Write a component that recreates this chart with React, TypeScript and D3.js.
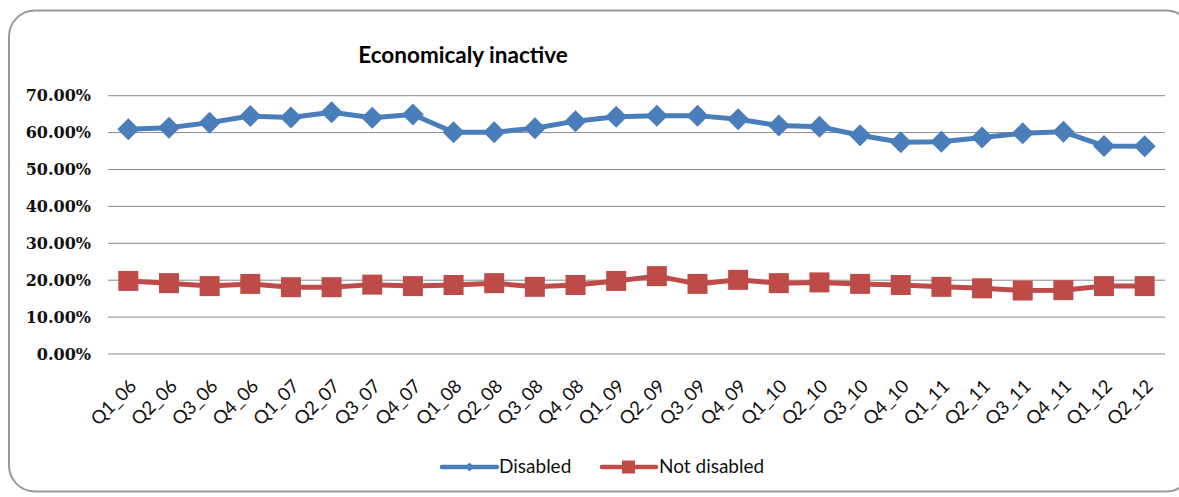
import React from "react";
import * as d3 from "d3";

const categories = ["Q1_06","Q2_06","Q3_06","Q4_06","Q1_07","Q2_07","Q3_07","Q4_07","Q1_08","Q2_08","Q3_08","Q4_08","Q1_09","Q2_09","Q3_09","Q4_09","Q1_10","Q2_10","Q3_10","Q4_10","Q1_11","Q2_11","Q3_11","Q4_11","Q1_12","Q2_12"];
const disabled = [60.9,61.3,62.7,64.5,64.1,65.5,64.0,64.9,60.1,60.1,61.2,63.1,64.3,64.6,64.6,63.6,61.9,61.6,59.3,57.4,57.5,58.7,59.8,60.2,56.4,56.3];
const notDisabled = [19.8,19.2,18.4,19.0,18.1,18.1,18.8,18.4,18.7,19.2,18.2,18.7,19.8,21.1,19.0,20.1,19.2,19.4,19.0,18.7,18.2,17.8,17.2,17.3,18.4,18.4];
const yTicks = [0,10,20,30,40,50,60,70];
const title = "Economicaly inactive";
const seriesNames = ["Disabled", "Not disabled"];

const BLUE = "#4A7EBB";
const RED = "#BE4B48";

export default function App() {
  const W = 1179, H = 497;
  const left = 108, right = 1165, top = 95.7, bottom = 354;
  const x = d3.scaleBand<string>().domain(categories).range([left, right]);
  const y = d3.scaleLinear().domain([0, 70]).range([bottom, top]);
  const cx = (c: string) => (x(c) as number) + x.bandwidth() / 2;
  const line = d3.line<number>().x((_, i) => cx(categories[i])).y(d => y(d));

  const diamond = (px: number, py: number, r: number) =>
    `M${px},${py - r}L${px + r},${py}L${px},${py + r}L${px - r},${py}Z`;

  const sans = "Lato, 'Open Sans', sans-serif";

  return (
    <svg width={W} height={H} style={{ position: "absolute", left: 0, top: 0 }}>
      <rect x={0} y={0} width={W} height={H} fill="#fff" />
      <rect x={9} y={10.5} width={1183} height={481} rx={26} ry={26} fill="none" stroke="#999" strokeWidth={2} />
      <text x={463} y={63} textAnchor="middle" fontFamily={sans} fontWeight="bold" fontSize={22.5} fill="#000">{title}</text>
      {yTicks.map(t => (
        <g key={t}>
          <line x1={left} x2={right} y1={y(t)} y2={y(t)} stroke="#8a8a8a" strokeWidth={1} />
          <text x={91} y={y(t) + 5.5} textAnchor="end" fontFamily="'DejaVu Serif', serif" fontWeight="bold" fontSize={16} fill="#111">{t.toFixed(2) + "%"}</text>
        </g>
      ))}
      {categories.map(c => (
        <text key={c} x={0} y={0} transform={`translate(${cx(c) + 6},${384}) rotate(-45)`} textAnchor="end" dominantBaseline="middle"
          fontFamily={sans} fontSize={18.5} fill="#111">{c}</text>
      ))}
      <path d={line(disabled) as string} fill="none" stroke={BLUE} strokeWidth={5} strokeLinejoin="round" />
      {disabled.map((v, i) => (
        <path key={i} d={diamond(cx(categories[i]), y(v), 11)} fill={BLUE} />
      ))}
      <path d={line(notDisabled) as string} fill="none" stroke={RED} strokeWidth={5} strokeLinejoin="round" />
      {notDisabled.map((v, i) => (
        <rect key={i} x={cx(categories[i]) - 10} y={y(v) - 10} width={20} height={20} fill={RED} />
      ))}
      <g>
        <line x1={442} x2={497} y1={467} y2={467} stroke={BLUE} strokeWidth={4.5} strokeLinecap="round" />
        <path d={diamond(469.5, 467, 4.5)} fill={BLUE} />
        <text x={499} y={473} fontFamily={sans} fontSize={19} fill="#111">{seriesNames[0]}</text>
        <line x1={602} x2={656} y1={467} y2={467} stroke={RED} strokeWidth={4.5} strokeLinecap="round" />
        <rect x={622} y={460.5} width={13} height={13} fill={RED} />
        <text x={659} y={473} fontFamily={sans} fontSize={19} fill="#111">{seriesNames[1]}</text>
      </g>
    </svg>
  );
}
